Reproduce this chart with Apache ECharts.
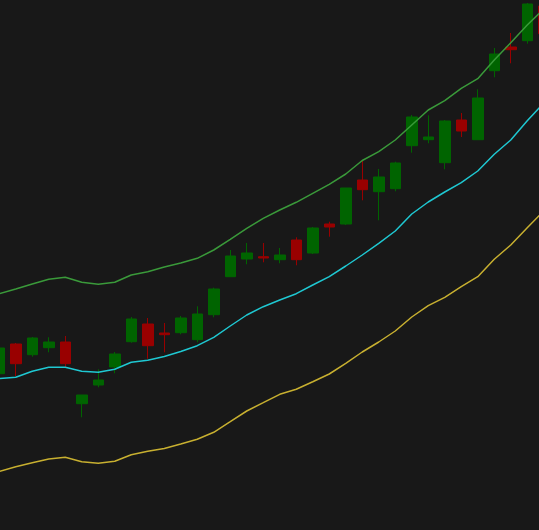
<!DOCTYPE html>
<html>
<head>
<meta charset="utf-8">
<script src="https://cdn.jsdelivr.net/npm/echarts@6/dist/echarts.min.js"></script>
<style>
html,body{margin:0;padding:0;background:#181818;}
#chart{width:539px;height:530px;}
</style>
</head>
<body>
<div id="chart"></div>
<script>
// Categories (bar index)
const categories = Array.from({length: 34}, (_, i) => String(i + 1));

// Candles: [open, close, low, high]
const opens  = [15.63,18.6,17.53,18.23,18.8,12.63,14.5,16.3,18.83,20.6,19.7,19.73,19.03,21.53,25.33,27.1,27.33,27.03,29.0,27.7,30.6,30.6,35.0,33.83,34.13,38.43,39.03,36.73,41.0,39.03,45.93,48.3,48.93,52.4];
const closes = [18.2,16.63,19.2,18.8,16.63,13.5,15.0,17.6,21.1,18.43,19.53,21.2,21.6,24.1,27.4,27.7,27.2,27.5,27.03,30.2,30.3,34.2,34.03,35.3,36.7,41.3,39.3,40.9,39.9,43.2,47.6,48.03,52.6,49.63];
const lows   = [15.5,15.4,17.33,17.77,16.23,11.27,14.27,15.67,18.73,17.13,17.77,19.57,18.77,21.27,25.33,26.57,26.77,26.67,26.47,27.6,29.33,30.5,32.97,30.97,33.87,37.73,38.67,36.07,39.3,39.03,45.27,46.67,48.63,49.0];
const highs  = [18.3,18.7,19.3,19.27,19.4,13.5,16.07,17.8,21.3,21.2,20.7,21.4,22.37,24.23,28.0,28.7,28.7,28.2,29.27,30.3,30.83,34.2,36.9,36.1,36.83,41.5,41.47,41.0,41.7,44.07,48.2,49.7,52.7,52.7];

// Band lines
const upperBand  = [23.63,24.1,24.6,25.07,25.27,24.77,24.57,24.77,25.5,25.83,26.3,26.7,27.17,28.0,29.07,30.17,31.17,32.0,32.77,33.67,34.57,35.6,36.95,37.83,39.0,40.5,42.0,42.93,44.17,45.13,47.0,48.73,50.5,52.1];
const middleBand = [15.15,15.27,15.87,16.27,16.27,15.87,15.77,16.07,16.77,16.97,17.35,17.85,18.43,19.27,20.4,21.5,22.33,23.0,23.63,24.5,25.33,26.4,27.5,28.67,29.9,31.6,32.8,33.8,34.73,35.9,37.57,39.0,40.93,42.7];
const lowerBand  = [5.85,6.33,6.73,7.1,7.27,6.83,6.67,6.87,7.53,7.87,8.15,8.6,9.07,9.77,10.83,11.9,12.73,13.57,14.07,14.83,15.6,16.67,17.8,18.8,19.9,21.3,22.43,23.27,24.33,25.33,27.07,28.5,30.23,31.9];

const candleData = opens.map((o, i) => [o, closes[i], lows[i], highs[i]]);

const chart = echarts.init(document.getElementById('chart'));
chart.setOption({
  backgroundColor: '#181818',
  animation: false,
  grid: {left: -9, right: -13, top: 0, bottom: 0, containLabel: false, outerBoundsMode: 'none'},
  xAxis: {
    type: 'category', data: categories, boundaryGap: true,
    show: false
  },
  yAxis: {
    type: 'value', min: 0, max: 53, show: false,
    splitLine: {show: false}
  },
  series: [
    {
      type: 'candlestick', data: candleData, barWidth: 11,
      itemStyle: {
        color: '#006400', color0: '#990000',
        borderColor: '#006400', borderColor0: '#990000', borderWidth: 1
      }
    },
    {type: 'line', data: upperBand, symbol: 'none', smooth: false,
     lineStyle: {color: '#3a9a3a', width: 1.5}},
    {type: 'line', data: middleBand, symbol: 'none', smooth: false,
     lineStyle: {color: '#1fc8d2', width: 1.5}},
    {type: 'line', data: lowerBand, symbol: 'none', smooth: false,
     lineStyle: {color: '#c8b030', width: 1.5}}
  ]
});
</script>
</body>
</html>
